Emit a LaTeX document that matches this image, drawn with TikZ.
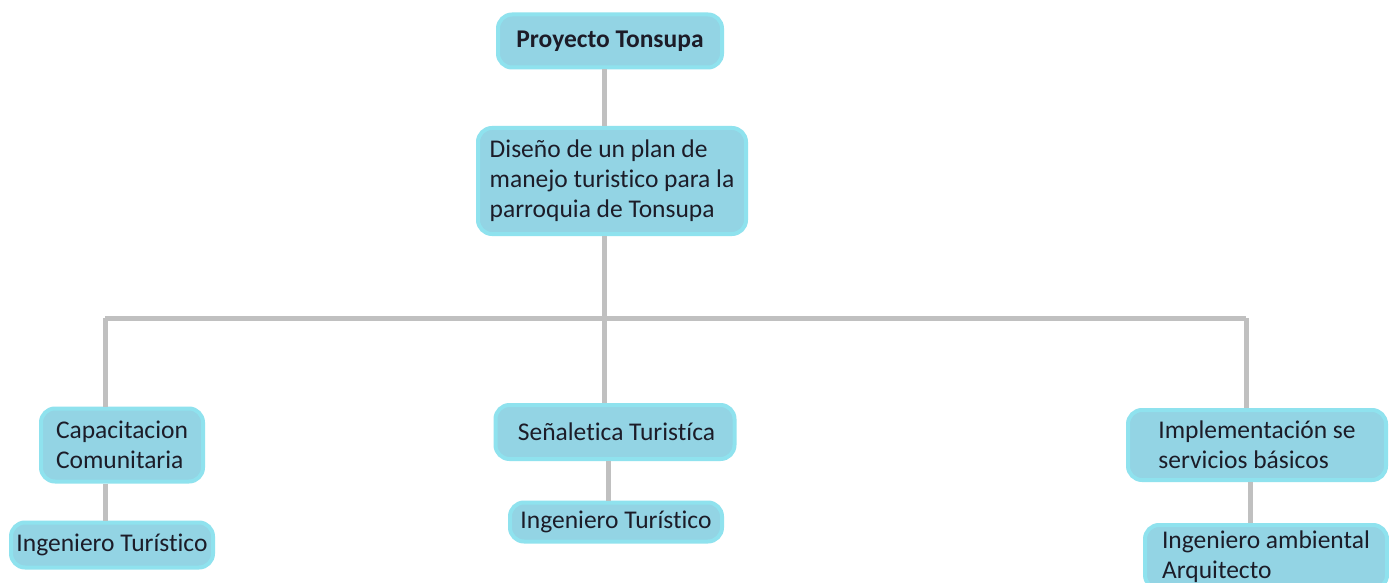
\documentclass[tikz,border=0pt]{standalone}
\usepackage{fontspec}
\setmainfont{Carlito}[Ligatures=NoCommon]
\definecolor{boxfill}{HTML}{93D4E4}
\definecolor{boxedge}{HTML}{8FE2EE}
\definecolor{linegray}{HTML}{C0C0C0}
\definecolor{txt}{HTML}{1C1C28}
\begin{document}
\begin{tikzpicture}[x=1pt,y=-1pt,
  box/.style={rectangle, rounded corners=14pt, fill=boxfill, draw=boxedge, line width=4pt,
    font=\fontsize{25.5}{30}\selectfont, text=txt, align=left, inner sep=0pt},
  conn/.style={draw=linegray, line width=5pt}]
\useasboundingbox (0,0) rectangle (1389,583);
\fill[white] (0,0) rectangle (1389,583);
\clip (0,0) rectangle (1389,583);
\coordinate (hl) at (105,318);
\coordinate (hr) at (1246,318);
\coordinate (hm) at (604,318);
\node[box, minimum width=224, minimum height=53] (top) at (610,41) {\bfseries Proyecto Tonsupa};
\node[box, minimum width=268, minimum height=106] (dis) at (612,181) {Diseño de un plan de\\manejo turistico para la\\parroquia de Tonsupa};
\node[box, minimum width=162, minimum height=73] (cap) at (122,445) {Capacitacion\\Comunitaria};
\node[box, minimum width=202, minimum height=45] (ing1) at (112,545) {Ingeniero Turístico};
\node[box, minimum width=239, minimum height=54] (sen) at (615,432) {\hspace*{3pt}Señaletica Turistíca};
\node[box, minimum width=212, minimum height=39] (ing2) at (616,522) {Ingeniero Turístico};
\node[box, minimum width=258, minimum height=70] (imp) at (1257,445) {Implementación se\\servicios básicos};
\node[box, minimum width=242, minimum height=64, anchor=north] (amb) at (1266,523) {Ingeniero ambiental\\Arquitecto};
\draw[conn] (top.south -| hm) -- (dis.north -| hm);
\draw[conn] (dis.south -| hm) -- (sen.north -| hm);
\draw[conn] (hl) -- (hr);
\draw[conn] (hl) -- (cap.north -| hl);
\draw[conn] (hr) -- (imp.north -| hr);
\draw[conn] (cap.south -| hl) -- (ing1.north -| hl);
\draw[conn] (sen.south -| 608,0) -- (ing2.north -| 608,0);
\draw[conn] (imp.south -| 1250,0) -- (amb.north -| 1250,0);
\end{tikzpicture}
\end{document}
